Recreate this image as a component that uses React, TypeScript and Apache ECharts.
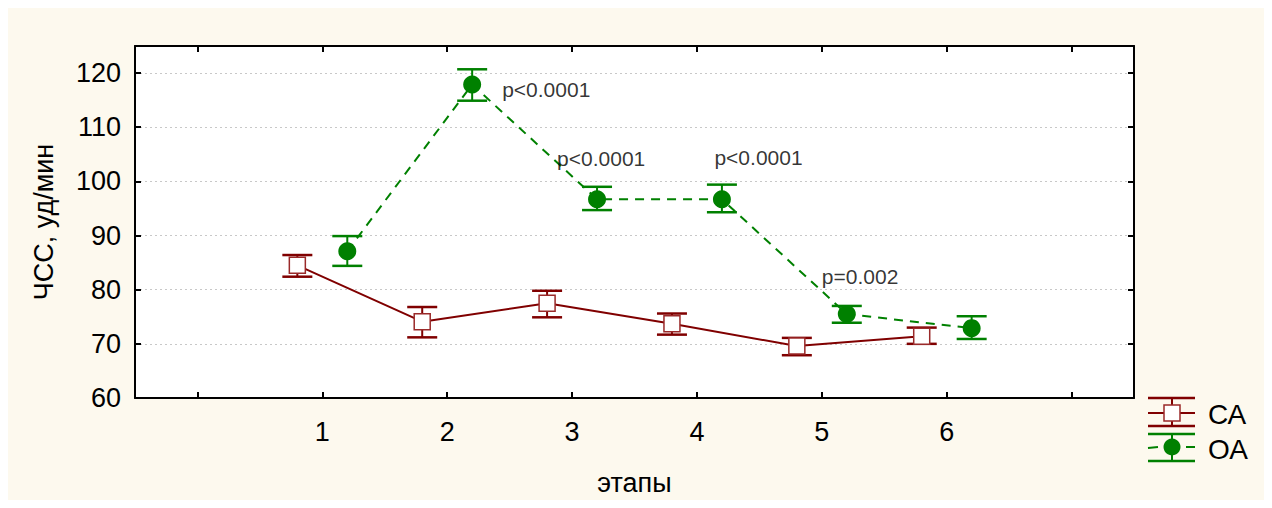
import React, { useEffect, useRef } from "react";
import * as echarts from "echarts";

// ---- data ----
const stages = [1, 2, 3, 4, 5, 6];
const caMean = [84.5, 74.1, 77.5, 73.7, 69.6, 71.4];
const caLow = [82.4, 71.2, 74.9, 71.7, 67.9, 70.0];
const caHigh = [86.4, 76.8, 79.8, 75.6, 71.1, 73.0];
const oaMean = [87.1, 117.9, 96.7, 96.7, 75.5, 72.9];
const oaLow = [84.4, 114.9, 94.7, 94.3, 73.9, 70.9];
const oaHigh = [89.9, 120.7, 99.0, 99.4, 77.0, 75.1];
const groupOffset = 0.2;
const xTicks = [0, 1, 2, 3, 4, 5, 6, 7];
const xLabels = [1, 2, 3, 4, 5, 6];
const yTicks = [60, 70, 80, 90, 100, 110, 120];
const pTexts = ["p<0.0001", "p<0.0001", "p<0.0001", "p=0.002"];
const pX = [2.44, 2.88, 4.14, 5.0];
const pY = [116.9, 104.3, 104.5, 82.4];
const seriesNames = ["СА", "ОА"];
const yTitle = "ЧСС, уд/мин";
const xTitle = "этапы";

const CA_COLOR = "#800000";
const OA_COLOR = "#008000";
const FONT = "'Liberation Sans', Arial, sans-serif";

function errorBarSeries(name: string, low: number[], high: number[], off: number, color: string) {
  return {
    type: "custom",
    name,
    z: 1,
    silent: true,
    data: stages.map((s, i) => [s + off, low[i], high[i]]),
    encode: { x: 0, y: [1, 2] },
    renderItem: (params: any, api: any) => {
      const x = api.value(0);
      const lo = api.coord([x, api.value(1)]);
      const hi = api.coord([x, api.value(2)]);
      const w = 15;
      return {
        type: "group",
        children: [
          { type: "line", shape: { x1: lo[0], y1: lo[1], x2: hi[0], y2: hi[1] }, style: { stroke: color, lineWidth: 2 } },
          { type: "line", shape: { x1: lo[0] - w, y1: lo[1], x2: lo[0] + w, y2: lo[1] }, style: { stroke: color, lineWidth: 2.5 } },
          { type: "line", shape: { x1: hi[0] - w, y1: hi[1], x2: hi[0] + w, y2: hi[1] }, style: { stroke: color, lineWidth: 2.5 } },
        ],
      };
    },
  };
}

export default function App() {
  const ref = useRef<HTMLDivElement>(null);
  useEffect(() => {
    if (!ref.current) return;
    const chart = echarts.init(ref.current, null, { renderer: "svg" });
    const axisLine = { show: true, onZero: false, lineStyle: { color: "#000", width: 2 } };
    const tickStyle = { lineStyle: { color: "#000", width: 2 } };
    const option: any = {
      animation: false,
      backgroundColor: "#fdf9ee",
      textStyle: { fontFamily: FONT },
      grid: {
        left: 127,
        top: 38,
        right: 130,
        bottom: 102,
        outerBoundsMode: "none",
        containLabel: false,
        show: true,
        backgroundColor: "#ffffff",
        borderWidth: 0,
      },
      xAxis: [
        {
          type: "value",
          min: -0.5,
          max: 7.5,
          position: "bottom",
          name: xTitle,
          nameLocation: "middle",
          nameGap: 71,
          nameTextStyle: { fontSize: 27, color: "#000", fontFamily: FONT },
          axisLine,
          axisTick: { show: true, inside: true, length: 6, customValues: xTicks, ...tickStyle },
          axisLabel: { show: true, customValues: xLabels, fontSize: 27, color: "#000", margin: 20, fontFamily: FONT },
          splitLine: { show: false },
        },
        {
          type: "value",
          min: -0.5,
          max: 7.5,
          position: "top",
          axisLine,
          axisTick: { show: true, inside: true, length: 6, customValues: xTicks, ...tickStyle },
          axisLabel: { show: false },
          splitLine: { show: false },
        },
      ],
      yAxis: [
        {
          type: "value",
          min: 60,
          max: 125,
          interval: 10,
          position: "left",
          name: yTitle,
          nameLocation: "middle",
          nameRotate: 90,
          nameGap: 78,
          nameTextStyle: { fontSize: 27, color: "#000", fontFamily: FONT },
          axisLine,
          axisTick: { show: true, inside: true, length: 6, customValues: yTicks, ...tickStyle },
          axisLabel: { show: true, customValues: yTicks, fontSize: 27, color: "#000", margin: 14, fontFamily: FONT },
          splitLine: { show: true, lineStyle: { color: "#c8c8c8", width: 1, type: [2, 3] } },
        },
        {
          type: "value",
          min: 60,
          max: 125,
          interval: 10,
          position: "right",
          axisLine,
          axisTick: { show: true, inside: true, length: 6, customValues: yTicks, ...tickStyle },
          axisLabel: { show: false },
          splitLine: { show: false },
        },
      ],
      series: [
        errorBarSeries(seriesNames[0] + " err", caLow, caHigh, -groupOffset, CA_COLOR),
        errorBarSeries(seriesNames[1] + " err", oaLow, oaHigh, groupOffset, OA_COLOR),
        {
          type: "line",
          name: seriesNames[0],
          z: 3,
          data: stages.map((s, i) => [s - groupOffset, caMean[i]]),
          lineStyle: { color: CA_COLOR, width: 2 },
          symbol: "rect",
          symbolSize: 16,
          itemStyle: { color: "#ffffff", borderColor: "#9a2a2a", borderWidth: 1.5 },
        },
        {
          type: "line",
          name: seriesNames[1],
          z: 3,
          data: stages.map((s, i) => [s + groupOffset, oaMean[i]]),
          lineStyle: { color: OA_COLOR, width: 2, type: [9, 7] },
          symbol: "circle",
          symbolSize: 18,
          itemStyle: { color: OA_COLOR, borderWidth: 0 },
        },
        {
          type: "scatter",
          name: "p",
          z: 4,
          silent: true,
          symbolSize: 0,
          data: pTexts.map((t, i) => ({ value: [pX[i], pY[i]], name: t })),
          label: {
            show: true,
            position: "right",
            distance: 0,
            formatter: (p: any) => p.name,
            fontSize: 21,
            color: "#000",
            fontFamily: FONT,
          },
        },
      ],
      graphic: [
        // legend CA
        { type: "line", shape: { x1: 1140, y1: 390, x2: 1187, y2: 390 }, style: { stroke: CA_COLOR, lineWidth: 2.5 } },
        { type: "line", shape: { x1: 1140, y1: 418, x2: 1187, y2: 418 }, style: { stroke: CA_COLOR, lineWidth: 2.5 } },
        { type: "line", shape: { x1: 1140, y1: 405, x2: 1187, y2: 405 }, style: { stroke: CA_COLOR, lineWidth: 2 } },
        { type: "line", shape: { x1: 1164, y1: 390, x2: 1164, y2: 418 }, style: { stroke: CA_COLOR, lineWidth: 2 } },
        { type: "rect", shape: { x: 1156, y: 397, width: 16, height: 16 }, style: { fill: "#fff", stroke: "#9a2a2a", lineWidth: 1.5 } },
        { type: "text", x: 1200, y: 406, style: { text: seriesNames[0], fontSize: 28, fill: "#000", fontFamily: FONT, verticalAlign: "middle", align: "left" } },
        // legend OA
        { type: "line", shape: { x1: 1140, y1: 426, x2: 1187, y2: 426 }, style: { stroke: OA_COLOR, lineWidth: 2.5 } },
        { type: "line", shape: { x1: 1140, y1: 453, x2: 1187, y2: 453 }, style: { stroke: OA_COLOR, lineWidth: 2.5 } },
        { type: "line", shape: { x1: 1164, y1: 426, x2: 1164, y2: 453 }, style: { stroke: OA_COLOR, lineWidth: 2 } },
        { type: "line", shape: { x1: 1140, y1: 440, x2: 1150, y2: 439 }, style: { stroke: OA_COLOR, lineWidth: 2 } },
        { type: "line", shape: { x1: 1178, y1: 439, x2: 1187, y2: 439 }, style: { stroke: OA_COLOR, lineWidth: 2 } },
        { type: "circle", shape: { cx: 1164, cy: 439, r: 8.5 }, style: { fill: OA_COLOR } },
        { type: "text", x: 1200, y: 441, style: { text: seriesNames[1], fontSize: 28, fill: "#000", fontFamily: FONT, verticalAlign: "middle", align: "left" } },
      ],
    };
    chart.setOption(option);
    return () => chart.dispose();
  }, []);
  return <div ref={ref} style={{ width: 1256, height: 492 }} />;
}
